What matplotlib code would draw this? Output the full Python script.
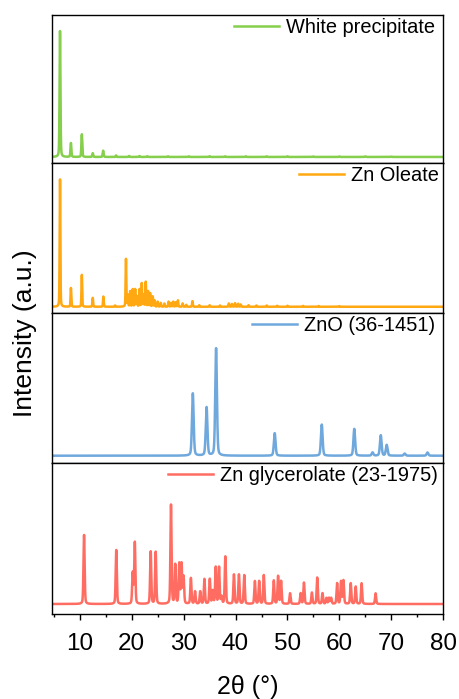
import numpy as np
import matplotlib
matplotlib.use("Agg")
import matplotlib.pyplot as plt
from matplotlib.lines import Line2D

plt.rcParams['font.family'] = ['Liberation Sans', 'DejaVu Sans']

# ---------------- data (peak positions in 2theta, relative heights %) ----------------
labels = ["White precipitate", "Zn Oleate", "ZnO (36-1451)", "Zn glycerolate (23-1975)"]
colors = ["#86CF4C", "#FFA811", "#6FA8DC", "#FF6D62"]

white_pos = [6.2, 8.3, 10.4, 12.5, 14.5, 17.0, 19.5, 21.5, 23.0, 27.0, 31.0, 35.0, 38.0,
             42.0, 46.0, 50.0, 55.0, 60.0, 65.0, 70.0]
white_h = [100, 11, 18, 3, 5, 1.2, 0.8, 0.8, 0.6, 0.5, 0.5, 0.6, 0.5,
           0.5, 0.5, 0.5, 0.4, 0.4, 0.4, 0.3]

oleate_pos = [6.2, 8.3, 10.4, 12.5, 14.55, 16.8, 18.9, 19.25, 19.7, 20.2, 20.67, 21.0,
              21.5, 21.94, 22.3, 22.7, 23.15, 23.55, 24.05, 24.4, 25.0, 25.6, 26.3,
              27.1, 27.6, 28.0, 28.5, 28.9, 29.8, 30.5, 31.7, 33.0, 35.0, 37.0, 38.7,
              39.3, 39.9, 40.5, 41.0, 42.5, 44.0, 46.0, 48.0, 50.0, 53.0, 56.0, 60.0]
oleate_h = [100, 14.7, 25, 7, 8, 1, 37.4, 9, 12, 13.6, 13.6, 8,
            13.6, 18.3, 9, 19.4, 12, 10.5, 8, 5, 4, 3, 2.5,
            4, 3, 4, 3.5, 5, 2.6, 1.5, 4.4, 1.2, 1.2, 1.0, 2.6,
            2.2, 2.8, 2.4, 1.8, 1.2, 1.0, 1.0, 0.8, 0.8, 0.7, 0.6, 0.5]

zno_pos = [31.77, 34.42, 36.25, 47.54, 56.60, 62.86, 66.38, 67.96, 69.10, 72.56, 76.95]
zno_h = [58, 45, 100, 21, 29, 25, 3, 19, 10, 2, 3]

glyc_pos = [10.83, 17.03, 20.2, 20.6, 23.66, 24.62, 27.57, 28.39, 29.16, 29.6, 29.99,
            31.4, 32.2, 33.2, 34.0, 35.04, 35.6, 36.18, 36.82, 37.3, 38.03, 39.69,
            40.65, 41.67, 43.72, 44.55, 45.44, 47.36, 48.19, 48.76, 50.49, 52.53,
            53.17, 54.7, 55.73, 56.74, 57.5, 58.0, 58.4, 59.55, 60.31, 60.77, 62.17,
            63.13, 64.27, 66.96]
glyc_h = [69.7, 54.5, 31, 62, 52.9, 52.5, 100, 39.4, 40.4, 40, 27,
          26, 12.5, 12.5, 25, 25, 13, 37, 37, 7, 47.8, 29.6,
          29.6, 29, 23, 23, 29, 23.6, 28, 23, 10.8, 10.8,
          21.5, 11.4, 26.6, 10.8, 6, 6, 6, 20.9, 22.6, 23.6, 20.9,
          17.5, 20.9, 10.8]

dash_pos = [6.2, 8.3, 10.4, 12.5, 14.5]

peaks = [(white_pos, white_h), (oleate_pos, oleate_h), (zno_pos, zno_h), (glyc_pos, glyc_h)]
widths = [0.10, 0.08, 0.19, 0.13]
ylims = [(-4.8, 112.7), (-4.9, 112.8), (-6.8, 132.9), (-10.1, 142.4)]
leg_right = [8, 4, 8, 5]
leg_top = [3, 3, 3, 3]

# ---------------- figure ----------------
W, H = 459, 699
fig = plt.figure(figsize=(W / 100, H / 100), dpi=100)
xl, xr = 51.7, 443.3
tops = [15, 163, 313, 463, 614]
x = np.linspace(4.6, 80, 8000)

for i in range(4):
    b = 1 - tops[i + 1] / H
    h = (tops[i + 1] - tops[i]) / H
    ax = fig.add_axes([xl / W, b, (xr - xl) / W, h])
    pos, hh = peaks[i]
    w = widths[i]
    y = np.zeros_like(x)
    for c, a in zip(pos, hh):
        lor = 1 / (1 + ((x - c) / w) ** 2)
        gau = np.exp(-np.log(2) * ((x - c) / w) ** 2)
        y += a * (0.3 * lor + 0.7 * gau)
    ax.plot(x, y, color=colors[i], lw=1.8, label=labels[i])
    ax.set_xlim(4.6, 80)
    ax.set_ylim(*ylims[i])
    ax.set_yticks([])
    for s in ax.spines.values():
        s.set_linewidth(1.0)
    if i < 3:
        ax.set_xticks([])
    else:
        ax.set_xticks(range(10, 81, 10))
        ax.set_xticks(range(5, 80, 10), minor=True)
        ax.tick_params(axis='x', which='major', direction='out', length=4.5, width=1.0,
                       labelsize=17.5, pad=9)
        ax.tick_params(axis='x', which='minor', direction='out', length=2.5, width=1.0)
    axw = xr - xl
    axh = tops[i + 1] - tops[i]
    ax.legend(loc='upper right',
              bbox_to_anchor=(1 - leg_right[i] / axw, 1.0 - leg_top[i] / axh),
              frameon=False, fontsize=14.4, handlelength=2.25, handletextpad=0.35,
              borderpad=0, borderaxespad=0)

# dashed guide lines across panels
for d in dash_pos:
    xf = (xl + (d - 4.6) / (80 - 4.6) * (xr - xl)) / W
    fig.add_artist(Line2D([xf, xf], [1 - 150 / H, 1 - 611 / H], transform=fig.transFigure,
                          color="#C4C4C4", lw=1.0, ls=(0, (8, 3, 2, 3)), zorder=0))

fig.text(25 / W, 1 - 333 / H, "Intensity (a.u.)", rotation=90, ha='center', va='center',
         fontsize=19)
fig.text(247.5 / W, 1 - 687 / H, "2θ (°)", ha='center', va='center', fontsize=18)

fig.savefig("out.png", dpi=100)
